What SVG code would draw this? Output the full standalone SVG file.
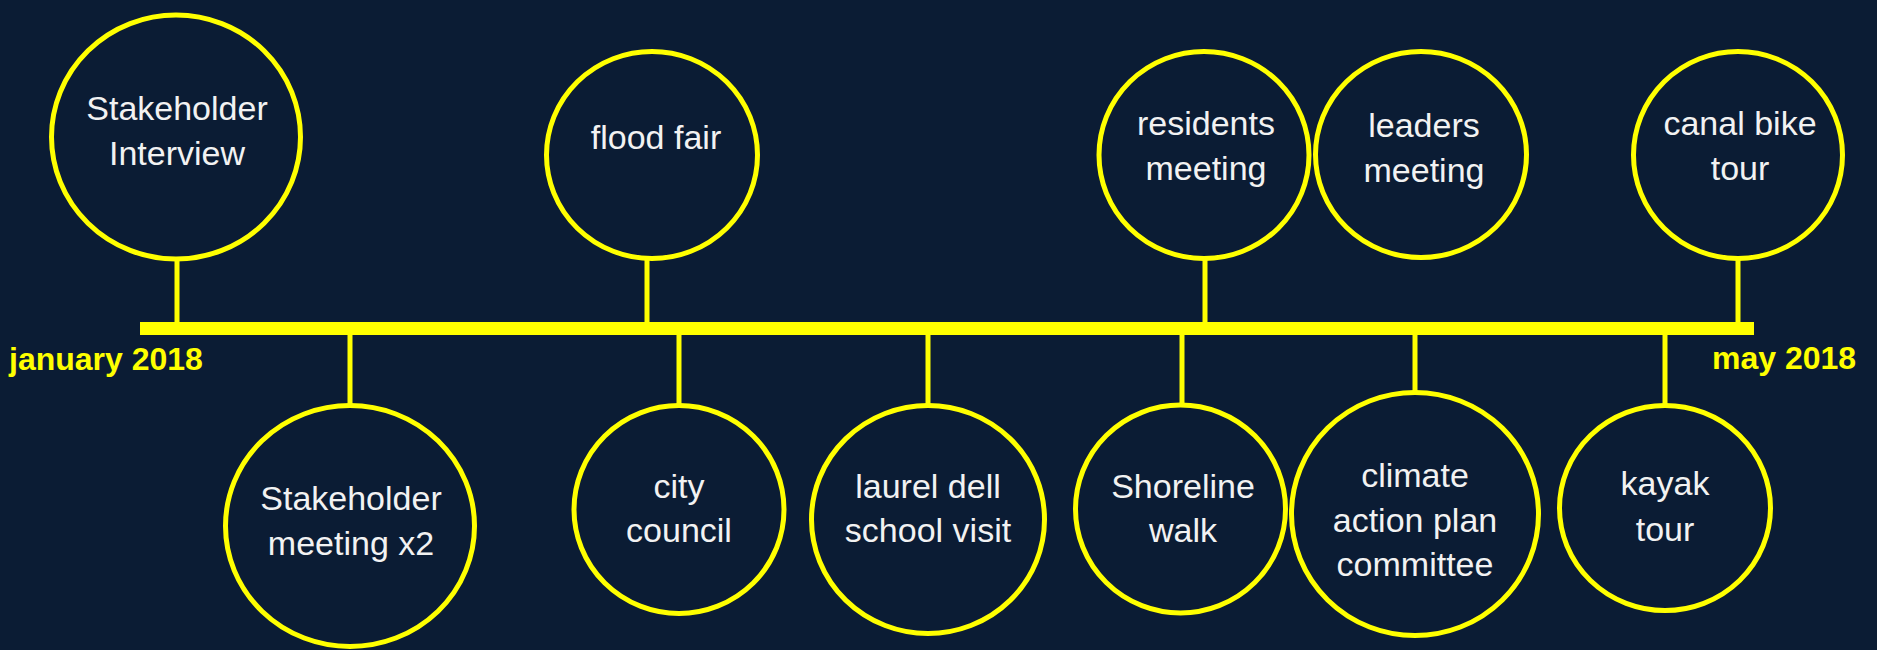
<svg xmlns="http://www.w3.org/2000/svg" width="1877" height="650" viewBox="0 0 1877 650">
<style>
.node ellipse{fill:#0b1c34;stroke:#ffff00;stroke-width:5}
.node text{fill:#f2f2f2;font-family:"Liberation Sans",Arial,sans-serif;font-size:34px;text-anchor:middle}
.stem{stroke:#ffff00;stroke-width:5}
.date{fill:#ffff00;font-family:"Liberation Sans",Arial,sans-serif;font-size:32px;font-weight:bold}
</style>
<rect width="1877" height="650" fill="#0b1c34"/>
<g id="connectors">
<rect x="140" y="322" width="1614" height="13" fill="#ffff00"/>
<line class="stem" x1="177" y1="259" x2="177" y2="323"/>
<line class="stem" x1="647" y1="259" x2="647" y2="323"/>
<line class="stem" x1="1205" y1="259" x2="1205" y2="323"/>
<line class="stem" x1="1738" y1="259" x2="1738" y2="323"/>
<line class="stem" x1="350" y1="334" x2="350" y2="405"/>
<line class="stem" x1="679" y1="334" x2="679" y2="405"/>
<line class="stem" x1="928" y1="334" x2="928" y2="405"/>
<line class="stem" x1="1182" y1="334" x2="1182" y2="405"/>
<line class="stem" x1="1415" y1="334" x2="1415" y2="392"/>
<line class="stem" x1="1665" y1="334" x2="1665" y2="405"/>
</g>
<text class="date" x="9" y="370">january 2018</text>
<text class="date" x="1712" y="369">may 2018</text>
<g id="n1" class="node"><ellipse cx="176" cy="137" rx="124.5" ry="122"/><text x="177" y="120">Stakeholder</text><text x="177" y="164.5">Interview</text></g>
<g id="n2" class="node"><ellipse cx="350" cy="526" rx="124.5" ry="120.5"/><text x="351" y="510">Stakeholder</text><text x="351" y="555">meeting x2</text></g>
<g id="n3" class="node"><ellipse cx="652" cy="155" rx="105.5" ry="103.5"/><text x="656" y="149">flood fair</text></g>
<g id="n4" class="node"><ellipse cx="679" cy="509.5" rx="105" ry="104"/><text x="679" y="497.5">city</text><text x="679" y="542">council</text></g>
<g id="n5" class="node"><ellipse cx="928" cy="519.5" rx="116.5" ry="114"/><text x="928" y="497.5">laurel dell</text><text x="928" y="542">school visit</text></g>
<g id="n6" class="node"><ellipse cx="1204" cy="155" rx="105" ry="103.5"/><text x="1206" y="135">residents</text><text x="1206" y="180">meeting</text></g>
<g id="n7" class="node"><ellipse cx="1421" cy="154.5" rx="105.5" ry="103"/><text x="1424" y="137">leaders</text><text x="1424" y="181.5">meeting</text></g>
<g id="n8" class="node"><ellipse cx="1738" cy="155" rx="104.5" ry="103.5"/><text x="1740" y="135">canal bike</text><text x="1740" y="180">tour</text></g>
<g id="n9" class="node"><ellipse cx="1180.5" cy="509" rx="105" ry="104"/><text x="1183" y="497.5">Shoreline</text><text x="1183" y="542">walk</text></g>
<g id="n10" class="node"><ellipse cx="1415" cy="514" rx="123.5" ry="121.5"/><text x="1415" y="487">climate</text><text x="1415" y="531.5">action plan</text><text x="1415" y="576">committee</text></g>
<g id="n11" class="node"><ellipse cx="1665" cy="508" rx="105.5" ry="102.5"/><text x="1665" y="495">kayak</text><text x="1665" y="541">tour</text></g>
</svg>
